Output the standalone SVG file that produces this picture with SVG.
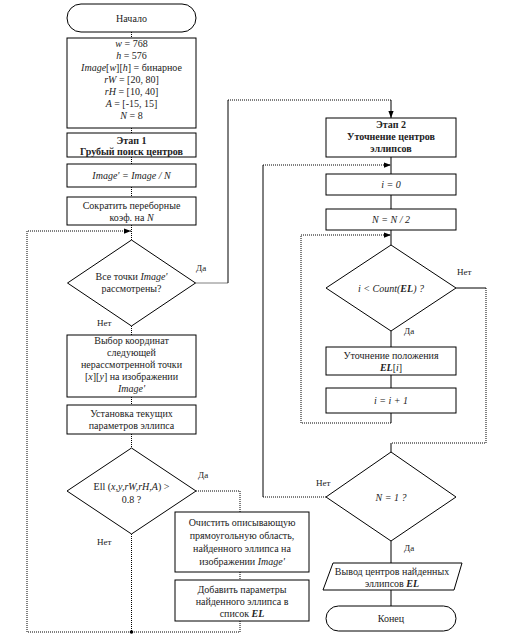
<svg xmlns="http://www.w3.org/2000/svg" width="513" height="637" viewBox="0 0 513 637">
<style>
.b{fill:#fff;stroke:#000;stroke-width:1}
.t{font-family:"Liberation Serif","Times New Roman",serif;font-size:10px;fill:#222;text-anchor:middle}
.bd{font-weight:bold}
.i{font-style:italic}
.lb{font-family:"Liberation Serif",serif;font-size:9px;fill:#222}
.d{fill:none;stroke:#000;stroke-width:1;stroke-dasharray:1 1}
.s{fill:none;stroke:#000;stroke-width:1}
</style>
<defs>
<marker id="ar" viewBox="0 0 8 8" refX="8" refY="4" markerWidth="7" markerHeight="7" markerUnits="userSpaceOnUse" orient="auto">
<path d="M0,1 L8,4 L0,7 z" fill="#000"/>
</marker>
</defs>
<rect width="513" height="637" fill="#fff"/>
<g id="connectors">
<path class="d" d="M131.5 32 V38"/>
<path class="d" d="M131.5 128 V133"/>
<path class="d" d="M131.5 157 V164"/>
<path class="d" d="M131.5 187 V197"/>
<path class="d" d="M131.5 225 V240"/>
<path class="d" d="M131.5 534 V632"/>
<path class="d" d="M240 621 V632 H27 V231 H131" marker-end="url(#ar)"/>
<circle cx="131.5" cy="632" r="1.8" fill="#000"/>
<path class="d" d="M195.5 283 H228"/>
<path class="s" d="M228 283 V100"/>
<path class="d" d="M228 100 H391"/>
<path class="s" d="M391 100 V118" marker-end="url(#ar)"/>
<path class="d" d="M131.5 326 V335"/>
<path class="d" d="M131.5 397 V405"/>
<path class="d" d="M131.5 434 V448"/>
<path class="d" d="M196 491 H240 V512"/>
<path class="d" d="M240 572 V580"/>
<path class="s" d="M391 157 V174"/>
<path class="s" d="M391 195 V209"/>
<path class="s" d="M391 230 V245"/>
<path class="s" d="M391 331 V347"/>
<path class="s" d="M391 375 V388"/>
<path class="s" d="M391 413 V423"/>
<path class="d" d="M391 423 H301 V235 H391" marker-end="url(#ar)"/>
<path class="s" d="M456 288 H486"/>
<path class="d" d="M486 288 V443 H391"/>
<path class="s" d="M391 443 V452"/>
<path class="d" d="M326 497 H263"/>
<path class="s" d="M263 497 V165"/>
<path class="d" d="M263 165 H391" marker-end="url(#ar)"/>
<path class="s" d="M391 541 V563"/>
<path class="s" d="M391 590 V606"/>
</g>
<g id="start">
<rect class="b" x="67" y="4" width="129" height="28" rx="14"/>
<text class="t" x="131.5" y="21.5">Начало</text>
</g>
<g id="params">
<rect class="b" x="67" y="38" width="129" height="90"/>
<text class="t" x="131.5" y="46.5"><tspan class="i">w</tspan> = 768</text>
<text class="t" x="131.5" y="58.5"><tspan class="i">h</tspan> = 576</text>
<text class="t" x="131.5" y="70.5"><tspan class="i">Image</tspan>[<tspan class="i">w</tspan>][<tspan class="i">h</tspan>] = бинарное</text>
<text class="t" x="131.5" y="82.5"><tspan class="i">rW</tspan> = [20, 80]</text>
<text class="t" x="131.5" y="94.5"><tspan class="i">rH</tspan> = [10, 40]</text>
<text class="t" x="131.5" y="106.5"><tspan class="i">A</tspan> = [-15, 15]</text>
<text class="t" x="131.5" y="118.5"><tspan class="i">N</tspan> = 8</text>
</g>
<g id="stage1">
<rect class="b" x="67" y="133" width="129" height="24"/>
<text class="t bd" x="131.5" y="143.5">Этап 1</text>
<text class="t bd" x="131.5" y="154.5">Грубый поиск центров</text>
</g>
<g id="reduce-image">
<rect class="b" x="67" y="164" width="129" height="23"/>
<text class="t i" x="131.5" y="179">Image' = Image / N</text>
</g>
<g id="reduce-coef">
<rect class="b" x="67" y="197" width="129" height="28"/>
<text class="t" x="131.5" y="208.5">Сократить переборные</text>
<text class="t" x="131.5" y="220.5">коэф. на <tspan class="i">N</tspan></text>
</g>
<g id="check-all">
<polygon class="b" points="131.5,240 195.5,283 131.5,326 67.5,283"/>
<text class="t" x="131.5" y="280">Все точки <tspan class="i">Image'</tspan></text>
<text class="t" x="131.5" y="292">рассмотрены?</text>
<text class="lb" x="196" y="271">Да</text>
<text class="lb" x="97" y="326">Нет</text>
</g>
<g id="choose-point">
<rect class="b" x="67" y="335" width="129" height="62"/>
<text class="t" x="131.5" y="343.5">Выбор координат</text>
<text class="t" x="131.5" y="355.5">следующей</text>
<text class="t" x="131.5" y="367.5">нерассмотренной точки</text>
<text class="t" x="131.5" y="379.5">[<tspan class="i">x</tspan>][<tspan class="i">y</tspan>] на изображении</text>
<text class="t i" x="131.5" y="391.5">Image'</text>
</g>
<g id="set-params">
<rect class="b" x="67" y="405" width="129" height="29"/>
<text class="t" x="131.5" y="416.5">Установка текущих</text>
<text class="t" x="131.5" y="428.5">параметров эллипса</text>
</g>
<g id="check-ell">
<polygon class="b" points="131.5,448 196,491 131.5,534 67,491"/>
<text class="t" x="131.5" y="490">Ell (<tspan class="i">x,y,rW,rH,A</tspan>) &gt;</text>
<text class="t" x="131.5" y="503">0.8 ?</text>
<text class="lb" x="198" y="478">Да</text>
<text class="lb" x="97" y="545">Нет</text>
</g>
<g id="clear-area">
<rect class="b" x="175" y="512" width="134" height="60"/>
<text class="t" x="242" y="525.5">Очистить описывающую</text>
<text class="t" x="242" y="538.5">прямоугольную область,</text>
<text class="t" x="242" y="551.5">найденного эллипса на</text>
<text class="t" x="242" y="564.5">изображении <tspan class="i">Image'</tspan></text>
</g>
<g id="add-params">
<rect class="b" x="175" y="580" width="134" height="41"/>
<text class="t" x="242" y="592.5">Добавить параметры</text>
<text class="t" x="242" y="604.5">найденного эллипса в</text>
<text class="t" x="242" y="616.5">список <tspan class="i bd">EL</tspan></text>
</g>
<g id="stage2">
<rect class="b" x="326" y="118" width="130" height="39"/>
<text class="t bd" x="391" y="128">Этап 2</text>
<text class="t bd" x="391" y="140">Уточнение центров</text>
<text class="t bd" x="391" y="152">эллипсов</text>
</g>
<g id="i-zero">
<rect class="b" x="326" y="174" width="130" height="21"/>
<text class="t i" x="391" y="188">i = 0</text>
</g>
<g id="n-half">
<rect class="b" x="326" y="209" width="130" height="21"/>
<text class="t i" x="391" y="223">N = N / 2</text>
</g>
<g id="check-count">
<polygon class="b" points="391,245 456,288 391,331 326,288"/>
<text class="t i" x="391" y="291.5">i &lt; Count(<tspan class="bd">EL</tspan>) ?</text>
<text class="lb" x="457" y="275">Нет</text>
<text class="lb" x="404" y="334">Да</text>
</g>
<g id="refine">
<rect class="b" x="326" y="347" width="130" height="28"/>
<text class="t" x="391" y="358.5">Уточнение положения</text>
<text class="t" x="391" y="370.5"><tspan class="i bd">EL</tspan>[<tspan class="i">i</tspan>]</text>
</g>
<g id="i-inc">
<rect class="b" x="326" y="388" width="130" height="25"/>
<text class="t i" x="391" y="404">i = i + 1</text>
</g>
<g id="check-n">
<polygon class="b" points="391,452 456,497 391,541 326,497"/>
<text class="t i" x="391" y="500.5">N = 1 ?</text>
<text class="lb" x="316" y="486">Нет</text>
<text class="lb" x="404" y="551">Да</text>
</g>
<g id="output">
<polygon class="b" points="333,563 462,563 454,590 323,590"/>
<text class="t" x="392" y="574.5">Вывод центров найденных</text>
<text class="t" x="392" y="586.5">эллипсов <tspan class="i bd">EL</tspan></text>
</g>
<g id="end">
<rect class="b" x="326" y="606" width="130" height="25" rx="12.5"/>
<text class="t" x="391" y="622">Конец</text>
</g>
</svg>
